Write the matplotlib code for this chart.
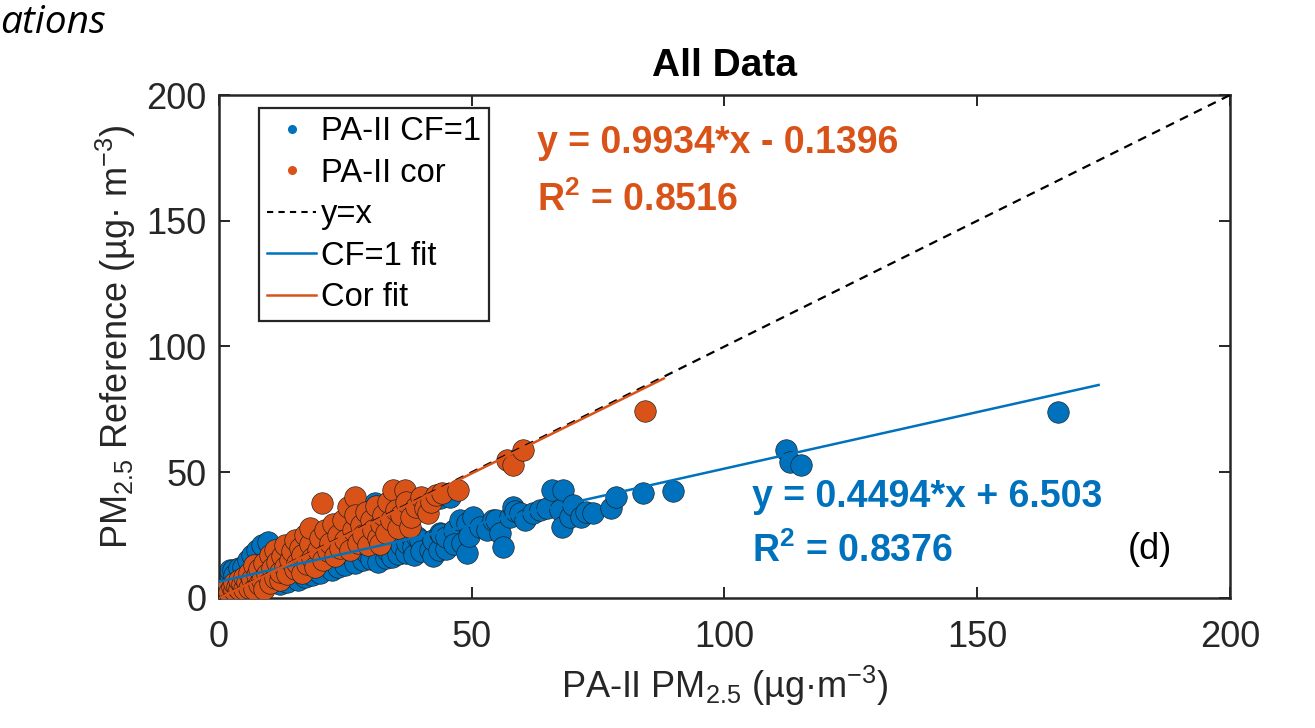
import matplotlib
matplotlib.use("Agg")
import matplotlib.pyplot as plt
from matplotlib.lines import Line2D
import numpy as np

plt.rcParams['font.family'] = ['Liberation Sans', 'DejaVu Sans']
plt.rcParams['mathtext.fontset'] = 'custom'
plt.rcParams['mathtext.rm'] = 'Liberation Sans'
plt.rcParams['mathtext.it'] = 'Liberation Sans:italic'
plt.rcParams['mathtext.bf'] = 'Liberation Sans:bold'

BLUE = "#0072BD"
ORANGE = "#D95319"
AXC = "#262626"

# ---- data ----------------------------------------------------------------
# PA-II with CF=1 (x) vs reference (y)
cf1_x = [0.5, 0.6, 1.0, 1.5, 1.5, 2.0, 2.2, 2.8, 3.0, 3.5, 4.0, 4.8, 5.7, 6.5, 7.5, 8.5, 9.7,
         10.0, 12.0, 13.5, 14.0, 15.6, 17.0, 18.0, 18.5, 20.0, 21.0, 22.4, 23.5, 24.0, 25.0,
         25.5, 26.6, 27.0, 27.0, 28.5, 29.2, 30.0, 30.0, 30.9, 31.5, 31.8, 33.0, 33.0, 33.2,
         34.2, 35.2, 35.5, 36.0, 37.0, 37.1, 38.0, 38.4, 38.5, 39.1, 39.8, 40.0, 41.7, 42.3,
         42.4, 43.5, 43.7, 43.7, 44.0, 45.0, 45.0, 45.7, 46.4, 46.5, 47.7, 48.0, 49.0, 49.0,
         49.5, 50.3, 51.6, 53.0, 54.3, 54.9, 55.6, 56.2, 57.6, 58.2, 58.6, 59.5, 60.5, 62.2,
         63.5, 64.8, 65.8, 67.5, 67.8, 68.1, 69.4, 70.1, 71.7, 72.7, 74.0, 77.6, 78.5, 83.9,
         89.9, 112.2, 113.0, 115.1, 166.0]
cf1_y = [3.5, 4.4, 6.0, 8.0, 7.2, 4.5, 11.0, 11.1, 9.0, 6.0, 12.0, 12.5, 15.0, 17.0, 19.0, 21.0, 22.3,
         12.0, 5.5, 6.5, 11.0, 7.2, 8.5, 14.0, 9.0, 10.0, 16.0, 11.1, 12.5, 18.0, 13.0,
         32.3, 16.4, 14.0, 20.0, 15.0, 17.8, 15.5, 22.0, 37.7, 14.5, 24.4, 16.0, 24.0, 19.1,
         16.3, 23.1, 17.5, 21.0, 18.0, 21.7, 24.5, 20.4, 17.0, 24.4, 23.1, 18.5, 19.1, 16.7,
         23.1, 19.0, 25.7, 39.8, 25.5, 19.5, 24.4, 40.3, 27.0, 21.5, 31.0, 22.0, 18.0, 29.7,
         24.5, 32.3, 28.4, 27.0, 31.0, 31.0, 25.7, 20.4, 32.3, 36.3, 34.5, 33.7, 31.0, 33.7,
         35.0, 35.7, 42.9, 35.0, 28.4, 42.9, 32.3, 37.0, 32.3, 34.3, 33.7, 35.7, 40.3, 41.7,
         42.5, 58.8, 54.0, 52.9, 74.0]

# PA-II corrected (x) vs reference (y)
cor_x = [1.0, 1.5, 2.0, 2.5, 3.0, 3.0, 3.5, 4.0, 4.0, 4.5, 5.0, 5.0, 5.5, 6.0, 6.0, 6.5, 7.0,
         7.0, 7.5, 8.0, 8.0, 8.5, 9.0, 9.0, 9.5, 10.0, 10.0, 10.5, 11.0, 11.0, 11.5, 12.0,
         12.0, 12.5, 13.0, 13.0, 13.5, 14.0, 14.5, 15.0, 15.0, 15.5, 16.0, 16.5, 16.5, 17.0,
         17.5, 18.0, 18.0, 18.5, 19.0, 19.5, 20.0, 20.3, 20.5, 21.0, 21.5, 22.0, 22.5, 23.0,
         23.5, 24.0, 24.5, 25.0, 25.6, 26.0, 26.5, 26.9, 27.0, 27.5, 28.0, 28.5, 29.0, 29.5,
         30.0, 30.5, 31.0, 31.5, 31.8, 32.0, 32.5, 33.0, 33.5, 34.0, 34.5, 35.0, 35.5, 36.0,
         36.8, 37.0, 37.8, 38.0, 39.0, 40.0, 40.8, 41.4, 42.0, 43.0, 44.1, 47.2, 56.9, 58.2,
         60.2, 84.3]
cor_y = [2.0, 3.5, 2.5, 4.5, 3.0, 6.0, 4.5, 3.5, 7.0, 5.5, 3.5, 8.5, 6.5, 4.0, 10.0, 7.5, 3.5,
         13.0, 9.0, 5.5, 11.5, 7.0, 3.5, 14.0, 9.5, 6.0, 17.0, 12.0, 8.0, 19.0, 14.5, 7.0,
         10.5, 16.5, 12.5, 21.0, 9.5, 15.0, 18.5, 11.5, 23.0, 14.0, 20.0, 10.0, 17.0, 25.0,
         13.5, 21.5, 28.0, 16.0, 12.5, 19.0, 24.0, 37.7, 15.0, 27.0, 18.5, 22.0, 29.5, 16.5,
         25.0, 20.0, 31.0, 23.0, 36.3, 19.0, 27.0, 40.3, 33.0, 22.0, 29.0, 25.0, 34.0, 21.0,
         31.0, 27.0, 36.5, 24.0, 21.5, 29.5, 33.0, 26.0, 38.0, 31.0, 42.9, 35.0, 28.0, 33.0,
         42.9, 38.0, 28.4, 32.3, 36.3, 40.0, 35.7, 33.7, 38.0, 41.0, 41.6, 42.9, 54.9, 52.9,
         58.8, 74.4]

# linear fits shown on the chart
cf1_slope, cf1_icpt, cf1_r2, cf1_xmax = 0.4494, 6.503, 0.8376, 174
cor_slope, cor_icpt, cor_r2, cor_xmax = 0.9934, -0.1396, 0.8516, 88

# ---- plot ---------------------------------------------------------------
fig = plt.figure(figsize=(13.15, 7.28), dpi=100)
ax = fig.add_axes([0.1665, 0.1786, 0.7689, 0.6909])

ax.scatter(cf1_x, cf1_y, s=240, c=BLUE, edgecolors="#1a1a1a", linewidths=0.45, zorder=2)
ax.scatter(cor_x, cor_y, s=240, c=ORANGE, edgecolors="#1a1a1a", linewidths=0.45, zorder=3)

ax.plot([0, 200], [0, 200], ls=(0, (4, 3)), color="black", lw=1.6, zorder=4)
xf = np.array([0, cf1_xmax])
ax.plot(xf, cf1_slope * xf + cf1_icpt, color=BLUE, lw=1.8, zorder=5)
xf = np.array([0, cor_xmax])
ax.plot(xf, cor_slope * xf + cor_icpt, color=ORANGE, lw=1.8, zorder=5)

ax.set_xlim(0, 200)
ax.set_ylim(0, 200)
ax.set_xticks([0, 50, 100, 150, 200])
ax.set_yticks([0, 50, 100, 150, 200])
ax.tick_params(direction="in", length=8, width=1.4, top=True, right=True,
               labelsize=26, colors=AXC)
ax.tick_params(axis="x", pad=16)
ax.tick_params(axis="y", pad=9)
for sp in ax.spines.values():
    sp.set_linewidth(1.8)
    sp.set_color(AXC)

ax.set_title("All Data", fontsize=28, fontweight="bold", pad=14, color="black")
ax.set_xlabel("PA-II PM$_{2.5}$ (µg·m$^{-3}$)", fontsize=26, color=AXC)
ax.set_ylabel("PM$_{2.5}$ Reference (µg· m$^{-3}$)", fontsize=26, color=AXC)
ax.xaxis.set_label_coords(0.5, -0.13)
ax.yaxis.set_label_coords(-0.08, 0.52)

# fit annotations
ax.text(62.9, 180.9, f"y = {cor_slope:.4f}*x - {abs(cor_icpt):.4f}", color=ORANGE,
        fontsize=27, fontweight="bold", ha="left", va="center")
ax.text(62.9, 158.3, "R$^{\\mathbf{2}}$ = " + f"{cor_r2:.4f}", color=ORANGE,
        fontsize=27, fontweight="bold", ha="left", va="center")
ax.text(105.4, 40.2, f"y = {cf1_slope:.4f}*x + {cf1_icpt:.3f}", color=BLUE,
        fontsize=27, fontweight="bold", ha="left", va="center")
ax.text(105.4, 18.5, "R$^{\\mathbf{2}}$ = " + f"{cf1_r2:.4f}", color=BLUE,
        fontsize=27, fontweight="bold", ha="left", va="center")
ax.text(179.8, 19.1, "(d)", color="black", fontsize=26, ha="left", va="center")

handles = [
    Line2D([], [], ls="none", marker=".", ms=11, color=BLUE, label="PA-II CF=1"),
    Line2D([], [], ls="none", marker=".", ms=11, color=ORANGE, label="PA-II cor"),
    Line2D([], [], ls=(0, (3, 2.5)), color="black", lw=1.5, label="y=x"),
    Line2D([], [], color=BLUE, lw=1.8, label="CF=1 fit"),
    Line2D([], [], color=ORANGE, lw=1.8, label="Cor fit"),
]
leg = ax.legend(handles=handles, loc="upper left", bbox_to_anchor=(0.0396, 0.974),
                borderaxespad=0, fontsize=23.5, fancybox=False, framealpha=1,
                edgecolor=AXC, handlelength=1.5, handletextpad=0.15,
                labelspacing=0.32, borderpad=0.25)
leg.get_frame().set_linewidth(1.6)

fig.text(0.0, 0.955, "ations", fontsize=28, fontstyle="italic", family="Open Sans",
         ha="left", va="baseline", color="black")

fig.savefig("out.png", dpi=100)
